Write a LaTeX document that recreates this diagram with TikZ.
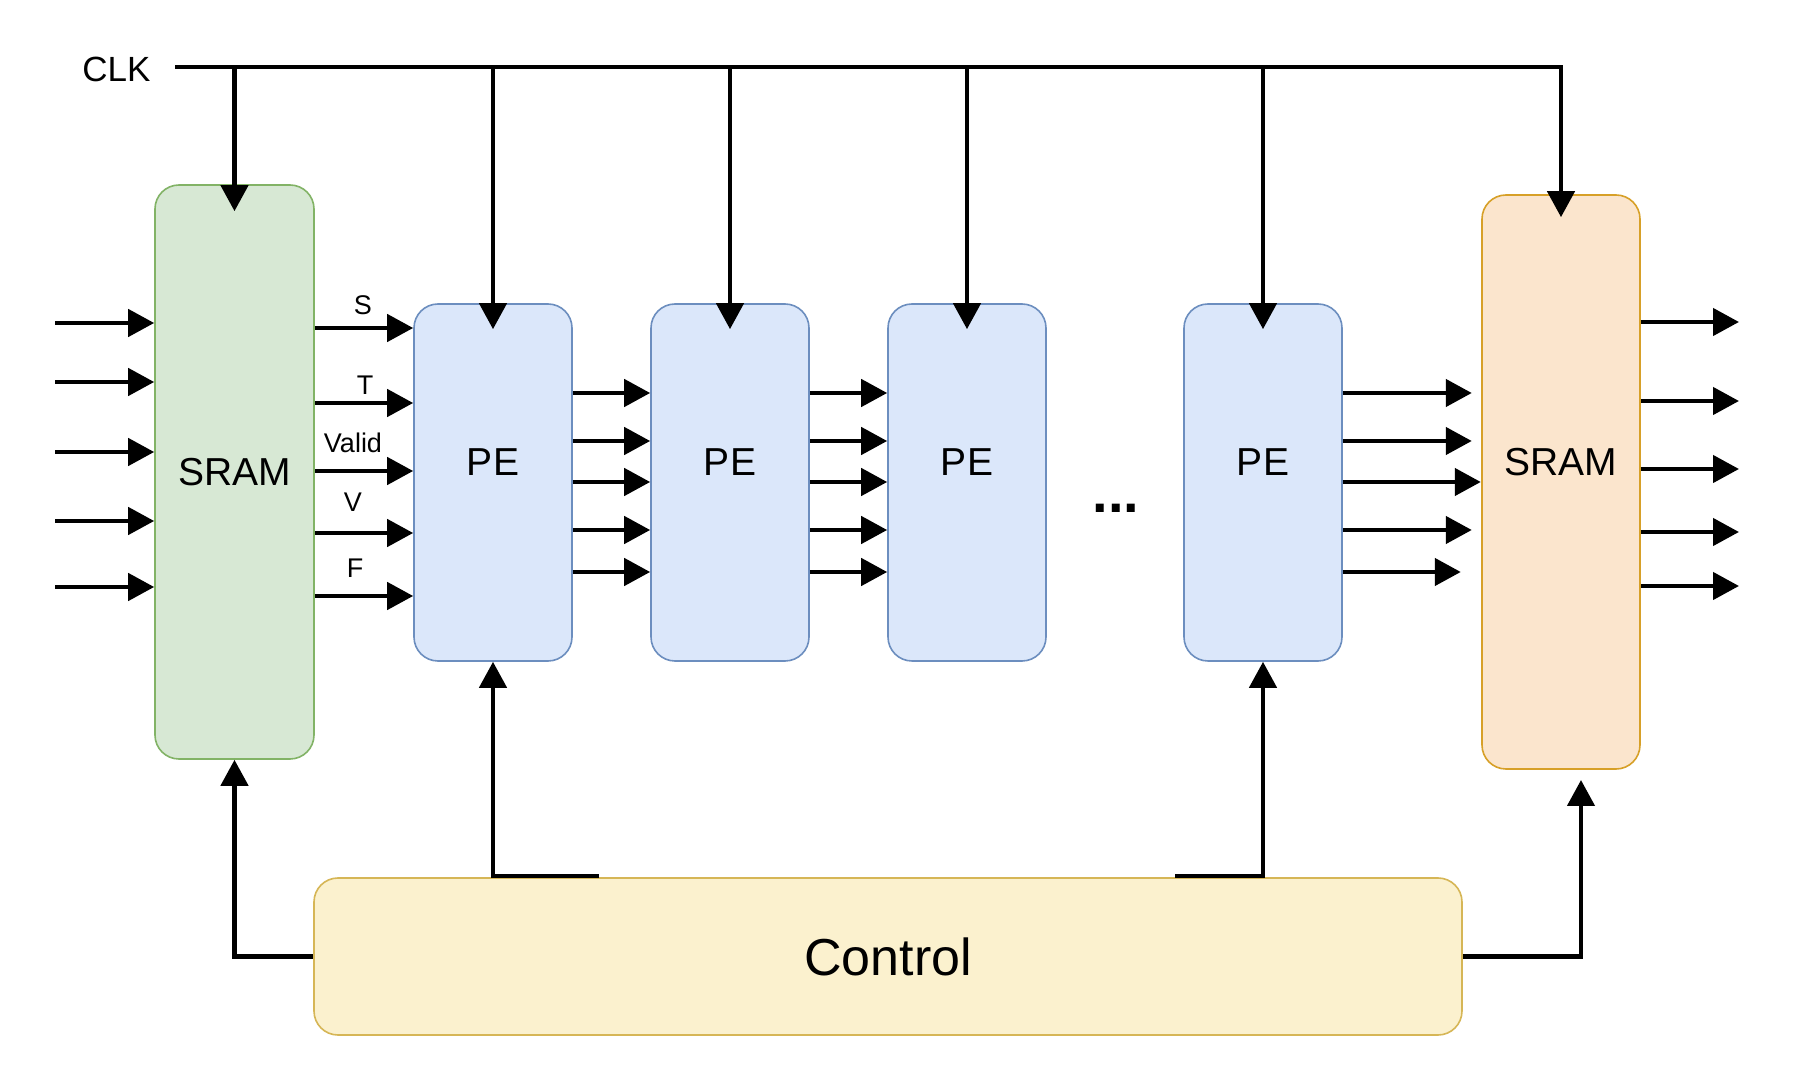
\documentclass[tikz,border=0pt]{standalone}
\usepackage{fontspec}
\setmainfont{Liberation Sans}
\usetikzlibrary{arrows.meta,calc}

\definecolor{sramfill}{RGB}{215,232,212}
\definecolor{sramline}{RGB}{130,179,102}
\definecolor{pefill}{RGB}{219,231,250}
\definecolor{peline}{RGB}{108,142,191}
\definecolor{outfill}{RGB}{251,229,205}
\definecolor{outline}{RGB}{215,160,40}
\definecolor{ctrlfill}{RGB}{251,241,206}
\definecolor{ctrlline}{RGB}{214,182,86}

\begin{document}
\begin{tikzpicture}[x=0.5pt,y=-0.5pt,
  wire/.style={line width=2.25pt},
  arr/.style={wire,-{Triangle[length=13pt,width=13.5pt]}},
  blk/.style={draw,rounded corners=12pt,line width=0.8pt,inner sep=0pt,
              font=\fontsize{19.5}{23}\selectfont},
  srambox/.style={blk,fill=sramfill,draw=sramline,minimum width=79.5pt,minimum height=287pt},
  pebox/.style={blk,fill=pefill,draw=peline,minimum width=79pt,minimum height=178.5pt},
  outbox/.style={blk,fill=outfill,draw=outline,minimum width=79pt,minimum height=287pt},
  ctrlbox/.style={blk,fill=ctrlfill,draw=ctrlline,minimum width=574pt,minimum height=78.5pt,
              font=\fontsize{26}{30}\selectfont},
  lbl/.style={inner sep=0pt,font=\fontsize{19.5}{23}\selectfont},
  sig/.style={inner sep=0pt,font=\fontsize{13.5}{16}\selectfont}]

\useasboundingbox (0,0) rectangle (1812,1074);
\fill[white] (0,0) rectangle (1812,1074);

% blocks
\node[srambox] (sram1) at (234.5,472) {SRAM};
\node[pebox] (pe1) at (493,482.5) {};
\node[pebox] (pe2) at (730,482.5) {};
\node[pebox] (pe3) at (967,482.5) {};
\node[pebox] (pe4) at (1263,482.5) {};
\node[outbox] (sram2) at (1561,482) {};
\node[ctrlbox] (ctrl) at (888,956.5) {Control};

% block captions
\node[lbl] (pe1txt) at (493,462) {PE};
\node[lbl] (pe2txt) at (730,462) {PE};
\node[lbl] (pe3txt) at (967,462) {PE};
\node[lbl] (pe4txt) at (1263,462) {PE};
\node[lbl] (sram2txt) at (1561,462) {SRAM};
\node[inner sep=0pt,anchor=base,font=\bfseries\fontsize{28}{30}\selectfont] (dots) at (1116,513) {...};

% clock distribution
\node[inner sep=0pt,font=\fontsize{17.5}{20}\selectfont] (clk) at (116.5,69) {CLK};
\coordinate (busL) at (175,67);
\draw[arr] (busL) -| ($(sram2.north)+(0,23)$);
\draw[arr] (sram1.north |- busL) -- ($(sram1.north)+(0,27)$);
\foreach \n in {pe1,pe2,pe3,pe4}
  \draw[arr] (\n.north |- busL) -- ($(\n.north)+(0,26)$);

% inputs into the first SRAM
\foreach \y [count=\i] in {323,382,452,521,587} {
  \coordinate (in\i) at (55,\y);
  \draw[arr] (in\i) -- (in\i -| sram1.west);
}

% SRAM to first PE, with signal names
\foreach \y/\t/\ty/\tx in {328/S/305/363, 403/T/385/365, 471/Valid/443/353, 533/V/502/353, 596/F/568/355} {
  \draw[arr] (sram1.east |- 0,\y) -- (pe1.west |- 0,\y);
  \node[sig] (sig\t) at (\tx,\ty) {\t};
}

% PE chain
\foreach \a/\b in {pe1/pe2,pe2/pe3}
  \foreach \y in {393,441,482,530,572}
    \draw[arr] (\a.east |- 0,\y) -- (\b.west |- 0,\y);

% last PE towards the output SRAM
\foreach \y/\l in {393/129,441/129,482/138,530/129,572/118}
  \draw[arr] (pe4.east |- 0,\y) -- ++(\l,0);

% outputs of the second SRAM
\foreach \y [count=\i] in {322,401,469,532,586} {
  \coordinate (out\i) at (1739,\y);
  \draw[arr] (sram2.east |- out\i) -- (out\i);
}

% control paths
\draw[arr] (ctrl.west) -| (sram1.south);
\coordinate (c1) at (599,876);
\draw[arr] (c1) -| (pe1.south);
\coordinate (c4) at (1175,876);
\draw[arr] (c4) -| (pe4.south);
\coordinate (s2in) at (1581,780);
\draw[arr] (ctrl.east) -| (s2in);

\end{tikzpicture}
\end{document}
